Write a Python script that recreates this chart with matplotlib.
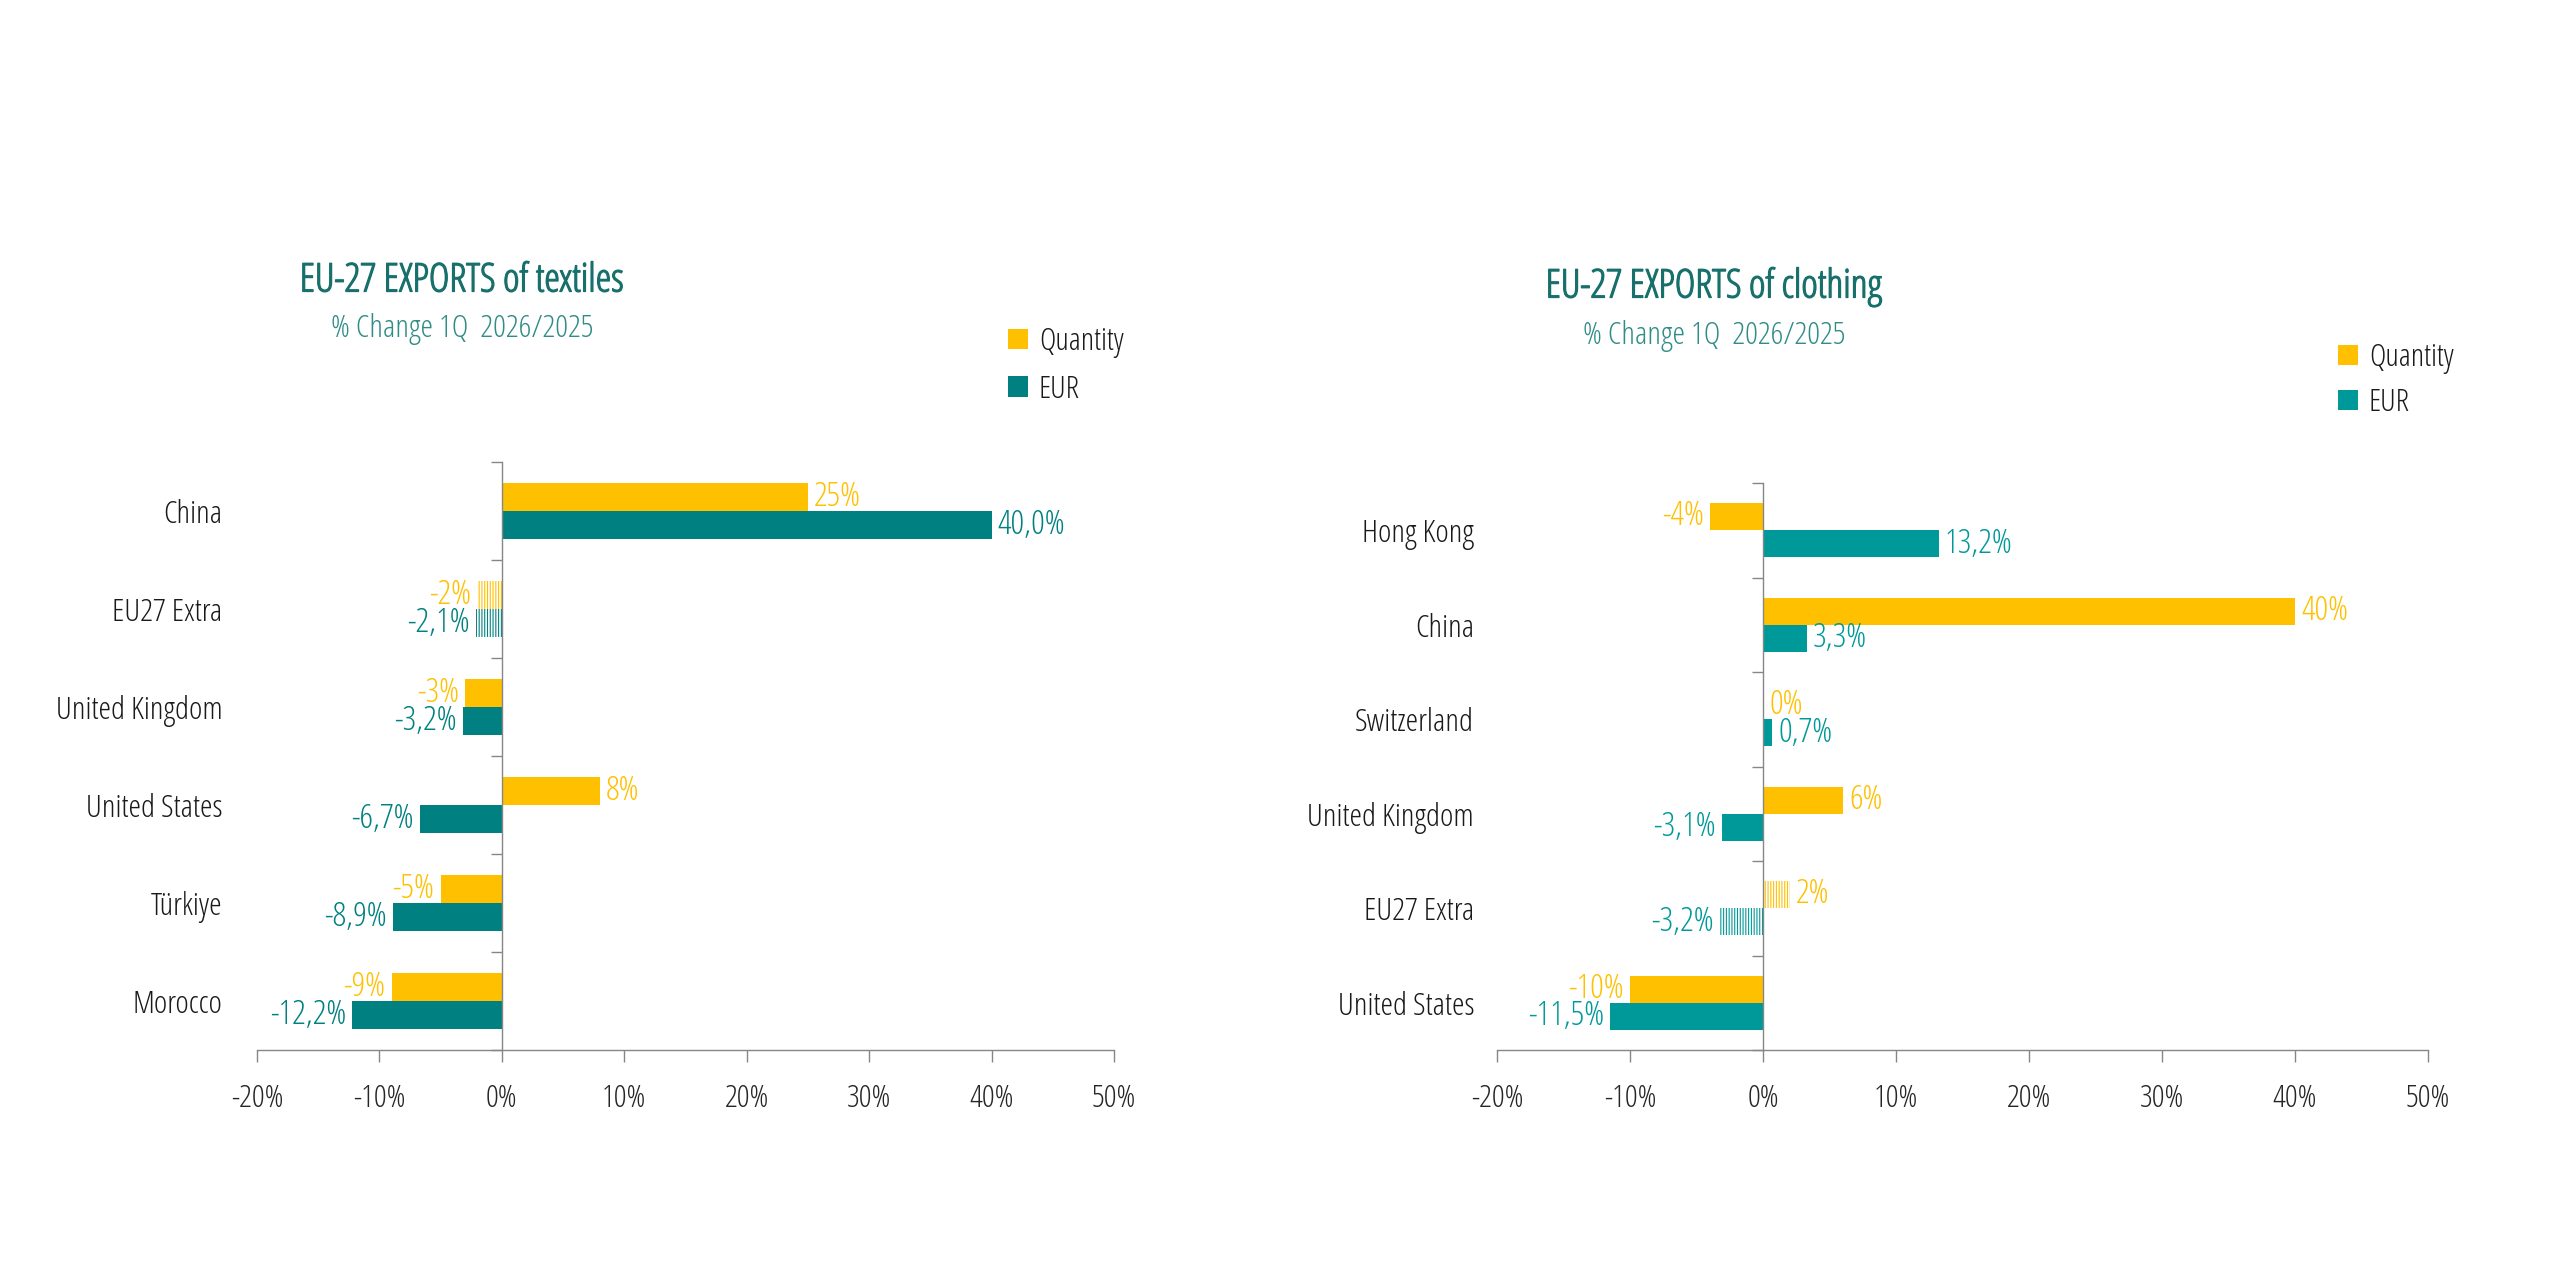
import matplotlib
matplotlib.use("Agg")
import matplotlib.pyplot as plt
from matplotlib import font_manager as fm
from matplotlib.patches import Patch
from matplotlib.font_manager import FontProperties
import matplotlib.patheffects as pe
import numpy as np

# ---------------- data ----------------
tex_categories = ["China", "EU27 Extra", "United Kingdom", "United States", "Türkiye", "Morocco"]
tex_quantity = [25, -2, -3, 8, -5, -9]
tex_eur = [40.0, -2.1, -3.2, -6.7, -8.9, -12.2]
tex_hatched = [False, True, False, False, False, False]

clo_categories = ["Hong Kong", "China", "Switzerland", "United Kingdom", "EU27 Extra", "United States"]
clo_quantity = [-4, 40, 0, 6, 2, -10]
clo_eur = [13.2, 3.3, 0.7, -3.1, -3.2, -11.5]
clo_hatched = [False, False, False, False, True, False]

x_ticks = [-20, -10, 0, 10, 20, 30, 40, 50]
series_names = ["Quantity", "EUR"]
titles = ["EU-27 EXPORTS of textiles", "EU-27 EXPORTS of clothing"]
subtitle = "% Change 1Q  2026/2025"

# ---------------- style ----------------
YELLOW = "#FFC000"
TEAL_L = "#008080"
TEAL_R = "#009999"
TITLE_C = "#17706B"
SUB_C = "#2F8C86"
SPINE_C = "#868686"

def pick_font():
    for f in fm.fontManager.ttflist:
        if f.name == "Open Sans" and f.stretch == "condensed" and f.weight == 300:
            return f.fname
    for f in fm.fontManager.ttflist:
        if f.name == "Roboto Condensed" and f.weight == 300:
            return f.fname
    return None

FPATH = pick_font()

def fp(size):
    if FPATH:
        return FontProperties(fname=FPATH, size=size)
    return FontProperties(family="DejaVu Sans", size=size)

plt.rcParams["hatch.linewidth"] = 0.8

W, H = 2560, 1280
fig = plt.figure(figsize=(25.6, 12.8), dpi=100)

def fmt_q(v):
    return f"{v:.0f}%"

def fmt_e(v):
    return f"{v:.1f}%".replace(".", ",")

def draw(ax, cats, q, e, hatched, teal, ypad):
    n = len(cats)
    y = np.arange(n)
    h = 0.286
    for i in range(n):
        if hatched[i]:
            ax.barh(y[i] - h / 2, q[i], height=h, color="white", edgecolor=YELLOW,
                    hatch="||||||", linewidth=0)
            ax.barh(y[i] + h / 2, e[i], height=h, color="white", edgecolor=teal,
                    hatch="||||||", linewidth=0)
        else:
            ax.barh(y[i] - h / 2, q[i], height=h, color=YELLOW, linewidth=0)
            ax.barh(y[i] + h / 2, e[i], height=h, color=teal, linewidth=0)
        for val, yy, col, txt in [(q[i], y[i] - h / 2, YELLOW, fmt_q(q[i])),
                                  (e[i], y[i] + h / 2, teal, fmt_e(e[i]))]:
            if val >= 0:
                ax.annotate(txt, xy=(val, yy), xytext=(4.5, 0), textcoords="offset points",
                            ha="left", va="center", color=col, fontproperties=fp(24.5))
            else:
                ax.annotate(txt, xy=(val, yy), xytext=(-4.5, 0), textcoords="offset points",
                            ha="right", va="center", color=col, fontproperties=fp(24.5))
    ax.set_xlim(-20, 50)
    ax.set_ylim(n - 0.5, -0.5)
    ax.spines["left"].set_position(("data", 0))
    ax.spines["left"].set_color(SPINE_C)
    ax.spines["bottom"].set_color(SPINE_C)
    ax.spines["left"].set_linewidth(1.0)
    ax.spines["bottom"].set_linewidth(1.0)
    ax.spines["top"].set_visible(False)
    ax.spines["right"].set_visible(False)
    ax.set_facecolor("none")
    ax.set_yticks(np.arange(-0.5, n, 1.0), minor=True)
    ax.tick_params(axis="y", which="major", length=0, pad=ypad)
    ax.tick_params(axis="y", which="minor", length=8, width=1.0, color=SPINE_C, direction="out")
    ax.tick_params(axis="x", which="major", length=8.6, width=1.0, color=SPINE_C, direction="out", pad=15)
    ax.set_xticks(x_ticks)
    ax.set_xticklabels([f"{t}%" for t in x_ticks], fontproperties=fp(23), color="#262626")
    ax.set_yticks(y)
    ax.set_yticklabels(cats, fontproperties=fp(23), color="#1A1A1A")

axL = fig.add_axes([257 / W, 1 - 1050 / H, (1114 - 257) / W, (1050 - 462) / H])
axR = fig.add_axes([1497 / W, 1 - 1050 / H, (2428 - 1497) / W, (1050 - 483) / H])

draw(axL, tex_categories, tex_quantity, tex_eur, tex_hatched, TEAL_L, 201)
draw(axR, clo_categories, clo_quantity, clo_eur, clo_hatched, TEAL_R, 208)

# titles
stroke = [pe.withStroke(linewidth=0.9, foreground=TITLE_C)]
fig.text(462 / W, 1 - 281 / H, titles[0], ha="center", va="center", color=TITLE_C,
         fontproperties=fp(28.5), path_effects=stroke)
fig.text(462 / W, 1 - 329 / H, subtitle, ha="center", va="center", color=SUB_C, fontproperties=fp(23))
fig.text(1714 / W, 1 - 287 / H, titles[1], ha="center", va="center", color=TITLE_C,
         fontproperties=fp(28.5), path_effects=stroke)
fig.text(1714 / W, 1 - 336 / H, subtitle, ha="center", va="center", color=SUB_C, fontproperties=fp(23))

# legends
def legend(x, ytop, teal, spacing):
    handles = [Patch(facecolor=YELLOW, edgecolor="none"), Patch(facecolor=teal, edgecolor="none")]
    leg = fig.legend(handles, series_names, loc="upper left", bbox_to_anchor=(x / W, 1 - ytop / H),
                     frameon=False, prop=fp(22.5), handlelength=0.63, handleheight=0.63,
                     handletextpad=0.36, labelspacing=spacing, borderpad=0, borderaxespad=0)
    for t in leg.get_texts():
        t.set_color("#1A1A1A")

legend(1008, 326, TEAL_L, 0.5)
legend(2338, 342, TEAL_R, 0.42)

fig.savefig("out.png", dpi=100)
